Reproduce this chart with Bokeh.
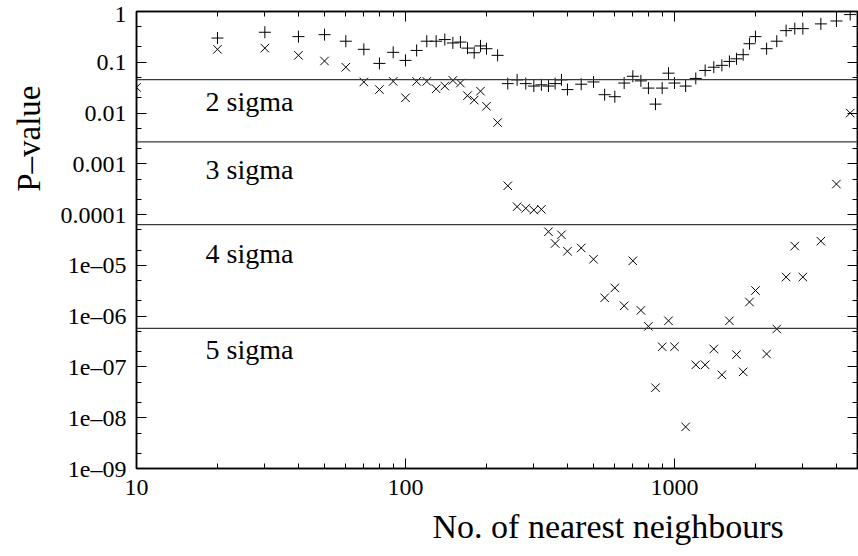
from bokeh.plotting import figure
from bokeh.models import FixedTicker, LogAxis, Span, Label, Range1d, Title
from bokeh.embed import file_html
from bokeh.resources import INLINE

# ---- data ----
x_plus = [20, 30, 40, 50, 60, 70, 80, 90, 100, 110, 120, 130, 140, 150, 160, 170, 180, 190, 200,
          220, 240, 260, 280, 300, 320, 340, 360, 380, 400, 450, 500, 550, 600, 650, 700, 750,
          800, 850, 900, 950, 1000, 1100, 1200, 1300, 1400, 1500, 1600, 1700, 1800, 1900, 2000,
          2200, 2400, 2600, 2800, 3000, 3500, 4000, 4500]
p_plus = [0.30, 0.39, 0.32, 0.35, 0.26, 0.18, 0.095, 0.157, 0.109, 0.171, 0.26, 0.26, 0.28, 0.24,
          0.25, 0.19, 0.154, 0.21, 0.185, 0.137, 0.038, 0.045, 0.038, 0.034, 0.036, 0.034, 0.038,
          0.045, 0.029, 0.037, 0.041, 0.023, 0.021, 0.039, 0.053, 0.043, 0.031, 0.015, 0.031,
          0.061, 0.039, 0.034, 0.048, 0.069, 0.080, 0.087, 0.104, 0.117, 0.141, 0.232, 0.32,
          0.185, 0.26, 0.42, 0.46, 0.46, 0.57, 0.65, 0.87]

x_cross = [10, 20, 30, 40, 50, 60, 70, 80, 90, 100, 110, 120, 130, 140, 150, 160, 170, 180, 190, 200,
           220, 240, 260, 280, 300, 320, 340, 360, 380, 400, 450, 500, 550, 600, 650, 700, 750,
           800, 850, 900, 950, 1000, 1100, 1200, 1300, 1400, 1500, 1600, 1700, 1800, 1900, 2000,
           2200, 2400, 2600, 2800, 3000, 3500, 4000, 4500]
p_cross = [0.032, 0.18, 0.19, 0.137, 0.106, 0.080, 0.041, 0.029, 0.042, 0.020, 0.042, 0.042, 0.030,
           0.034, 0.044, 0.039, 0.022, 0.018, 0.027, 0.0136, 0.0065, 3.7e-4, 1.43e-4, 1.33e-4,
           1.23e-4, 1.27e-4, 4.6e-5, 2.7e-5, 4.0e-5, 1.9e-5, 2.2e-5, 1.32e-5, 2.3e-6, 3.6e-6,
           1.6e-6, 1.23e-5, 1.3e-6, 6.3e-7, 3.9e-8, 2.5e-7, 8.1e-7, 2.5e-7, 6.6e-9, 1.1e-7,
           1.1e-7, 2.26e-7, 7.0e-8, 8.1e-7, 1.75e-7, 8.0e-8, 1.9e-6, 3.2e-6, 1.8e-7, 5.6e-7,
           5.9e-6, 2.4e-5, 5.9e-6, 3.0e-5, 4.0e-4, 0.010]

sigma_levels = [0.0455, 0.0027, 6.33e-5, 5.73e-7]
sigma_labels = ["2 sigma", "3 sigma", "4 sigma", "5 sigma"]

y_ticks = [1e-9, 1e-8, 1e-7, 1e-6, 1e-5, 1e-4, 1e-3, 1e-2, 1e-1, 1.0]
y_tick_labels = ["1e\u201309", "1e\u201308", "1e\u201307", "1e\u201306", "1e\u201305",
                 "0.0001", "0.001", "0.01", "0.1", "1"]
x_ticks = [10, 100, 1000]
x_tick_labels = ["10", "100", "1000"]

x_label = "No. of nearest neighbours"
y_label = "P\u2013value"

# ---- figure ----
FONT = "'Liberation Serif'"
p = figure(width=858, height=556, x_axis_type="log", y_axis_type="log",
           x_range=Range1d(10, 4790), y_range=Range1d(1e-9, 1),
           output_backend="svg", toolbar_location=None,
           min_border_left=136, min_border_right=1, min_border_top=11, min_border_bottom=87)
p.grid.visible = False
p.outline_line_color = "black"
p.outline_line_width = 1.5
p.background_fill_color = "white"
p.border_fill_color = "white"

y_minor = [m * 10.0 ** e for e in range(-9, 0) for m in (2, 5)]
x_minor = [m * 10.0 ** e for e in range(1, 4) for m in range(2, 10) if m * 10.0 ** e < 4790]


def style(ax, labels=True):
    ax.axis_line_color = "black"
    ax.axis_line_width = 1.5
    ax.major_tick_in = 10
    ax.major_tick_out = 0
    ax.minor_tick_in = 5
    ax.minor_tick_out = 0
    ax.major_tick_line_color = "black"
    ax.minor_tick_line_color = "black"
    ax.major_tick_line_width = 1
    ax.minor_tick_line_width = 1
    if labels:
        ax.major_label_text_font = FONT
        ax.major_label_text_font_size = "24px"
        ax.major_label_text_color = "black"
    else:
        ax.major_label_text_font_size = "1px"
        ax.major_label_text_alpha = 0
        ax.major_label_standoff = 0


xa = p.xaxis[0]
xa.ticker = FixedTicker(ticks=x_ticks, minor_ticks=x_minor)
xa.major_label_overrides = {float(v): s for v, s in zip(x_ticks, x_tick_labels)}
xa.major_label_standoff = 11
style(xa)

ya = p.yaxis[0]
ya.ticker = FixedTicker(ticks=y_ticks, minor_ticks=y_minor)
ya.major_label_overrides = {float(v): s for v, s in zip(y_ticks, y_tick_labels)}
ya.major_label_standoff = 10
style(ya)

top = LogAxis(ticker=FixedTicker(ticks=x_ticks, minor_ticks=x_minor))
style(top, labels=False)
p.add_layout(top, "above")
right = LogAxis(ticker=FixedTicker(ticks=y_ticks, minor_ticks=y_minor))
style(right, labels=False)
p.add_layout(right, "right")

# sigma lines and labels
label_y = [0.0168, 7.6e-4, 1.74e-5, 2.2e-7]
for lvl, txt, ly in zip(sigma_levels, sigma_labels, label_y):
    p.add_layout(Span(location=lvl, dimension="width", line_color="#3a3a3a", line_width=1.2))
    p.add_layout(Label(x=18.05, y=ly, text=txt, text_font=FONT, text_font_size="28px",
                       text_color="black", text_baseline="alphabetic", text_align="left"))

p.scatter(x_plus, p_plus, marker="cross", size=12, line_color="black", line_width=1)
p.scatter(x_cross, p_cross, marker="x", size=12, line_color="black", line_width=1)

# axis titles
xt = Title(text=x_label, align="left", offset=296, text_font=FONT, text_font_size="34px",
           text_font_style="normal", text_color="black", standoff=20, vertical_align="top")
p.add_layout(xt, "below")
yt = Title(text=y_label, align="right", offset=74, text_font=FONT, text_font_size="33px",
           text_font_style="normal", text_color="black", standoff=18, vertical_align="top")
p.add_layout(yt, "left")

open("out.html", "w").write(file_html(p, INLINE))
